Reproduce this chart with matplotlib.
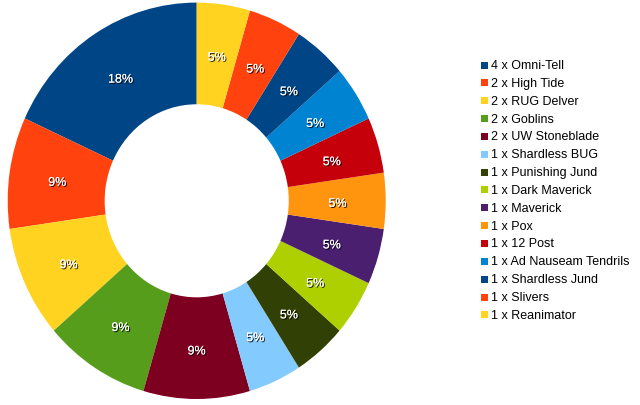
import matplotlib
matplotlib.use("Agg")
import matplotlib.pyplot as plt
import matplotlib.patheffects as pe
from matplotlib.patches import Rectangle

labels = ["4 x Omni-Tell", "2 x High Tide", "2 x RUG Delver", "2 x Goblins",
          "2 x UW Stoneblade", "1 x Shardless BUG", "1 x Punishing Jund",
          "1 x Dark Maverick", "1 x Maverick", "1 x Pox", "1 x 12 Post",
          "1 x Ad Nauseam Tendrils", "1 x Shardless Jund", "1 x Slivers",
          "1 x Reanimator"]
values = [4, 2, 2, 2, 2, 1, 1, 1, 1, 1, 1, 1, 1, 1, 1]
colors = ["#004586", "#ff420e", "#ffd320", "#579d1c", "#7e0021", "#83caff",
          "#314004", "#aecf00", "#4b1f6f", "#ff950e", "#c5000b", "#0084d1",
          "#004586", "#ff420e", "#ffd320"]

plt.rcParams['font.family'] = ['Liberation Sans', 'DejaVu Sans']
W, H = 640, 406
fig = plt.figure(figsize=(W/100, H/100), dpi=100)
cx, cy, rx, ry = 196.7, 201.8, 189, 198.2
ax = fig.add_axes([(cx - rx)/W, (H - cy - ry)/H, 2*rx/W, 2*ry/H])
wedges, texts, autotexts = ax.pie(
    values, colors=colors, startangle=90, counterclock=True,
    radius=1.0, wedgeprops=dict(width=0.513, linewidth=0),
    autopct='%.0f%%', pctdistance=0.745,
    textprops=dict(color='white', fontsize=9))
for t in autotexts:
    x, y = t.get_position()
    t.set_position((x, y - 3.0/ry))
    t.set_path_effects([pe.withSimplePatchShadow(offset=(0.8, -0.8), shadow_rgbFace='black', alpha=0.9), pe.Normal()])
ax.set_aspect('auto')
ax.set_xlim(-1, 1)
ax.set_ylim(-1, 1)
ax.axis('off')

# legend
y0 = 66
dy = 17.85
sq = 7
for i, (lab, c) in enumerate(zip(labels, colors)):
    y = y0 + i*dy
    fig.add_artist(Rectangle(((481)/W, (H - y - sq/2)/H), sq/W, sq/H,
                             transform=fig.transFigure, facecolor=c, edgecolor='none'))
    fig.text(491/W, (H - y)/H, lab, fontsize=9, color='black', va='center', ha='left')

fig.savefig("out.png", dpi=100)
